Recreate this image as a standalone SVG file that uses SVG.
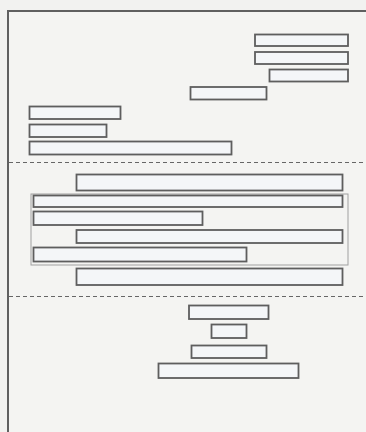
<svg xmlns="http://www.w3.org/2000/svg" width="366" height="432" viewBox="0 0 366 432">
<style>
.bar{fill:#f4f6f8;stroke:#5e5e5e;stroke-width:1.8}
.div{stroke:#666;stroke-width:1.2;stroke-dasharray:4,3;fill:none}
.grp{fill:none;stroke:#a0a0a0;stroke-width:1}
</style>
<rect x="0" y="0" width="366" height="432" fill="#f2f2f0"/>
<rect x="8" y="11" width="362" height="430" fill="#f4f4f2" stroke="#606060" stroke-width="2"/>
<g id="connectors">
<line class="div" x1="9" y1="162.5" x2="366" y2="162.5"/>
<line class="div" x1="9" y1="296.5" x2="366" y2="296.5"/>
</g>
<g id="group1"><rect class="grp" x="31" y="194" width="317" height="71"/></g>
<g id="n1"><rect class="bar" x="255" y="34.5" width="93" height="11.5"/></g>
<g id="n2"><rect class="bar" x="255" y="52" width="93" height="12"/></g>
<g id="n3"><rect class="bar" x="269.5" y="69.5" width="78.5" height="12"/></g>
<g id="n4"><rect class="bar" x="190.5" y="87" width="76" height="12.5"/></g>
<g id="n5"><rect class="bar" x="29.5" y="106.5" width="91" height="12.5"/></g>
<g id="n6"><rect class="bar" x="29.5" y="124.5" width="77" height="12.5"/></g>
<g id="n7"><rect class="bar" x="29.5" y="141.5" width="202" height="13"/></g>
<g id="n8"><rect class="bar" x="76.5" y="174.5" width="266" height="16"/></g>
<g id="n9"><rect class="bar" x="33.5" y="195.5" width="309" height="11.5"/></g>
<g id="n10"><rect class="bar" x="33.5" y="211.5" width="169" height="13.5"/></g>
<g id="n11"><rect class="bar" x="76.5" y="230" width="266" height="13"/></g>
<g id="n12"><rect class="bar" x="33.5" y="247.5" width="213" height="14"/></g>
<g id="n13"><rect class="bar" x="76.5" y="268.5" width="266" height="16.5"/></g>
<g id="n14"><rect class="bar" x="189" y="305.5" width="79.5" height="13.5"/></g>
<g id="n15"><rect class="bar" x="211.5" y="324.5" width="35" height="13.5"/></g>
<g id="n16"><rect class="bar" x="191.5" y="345.5" width="75" height="12.5"/></g>
<g id="n17"><rect class="bar" x="158.5" y="363.5" width="140" height="14.5"/></g>
</svg>
